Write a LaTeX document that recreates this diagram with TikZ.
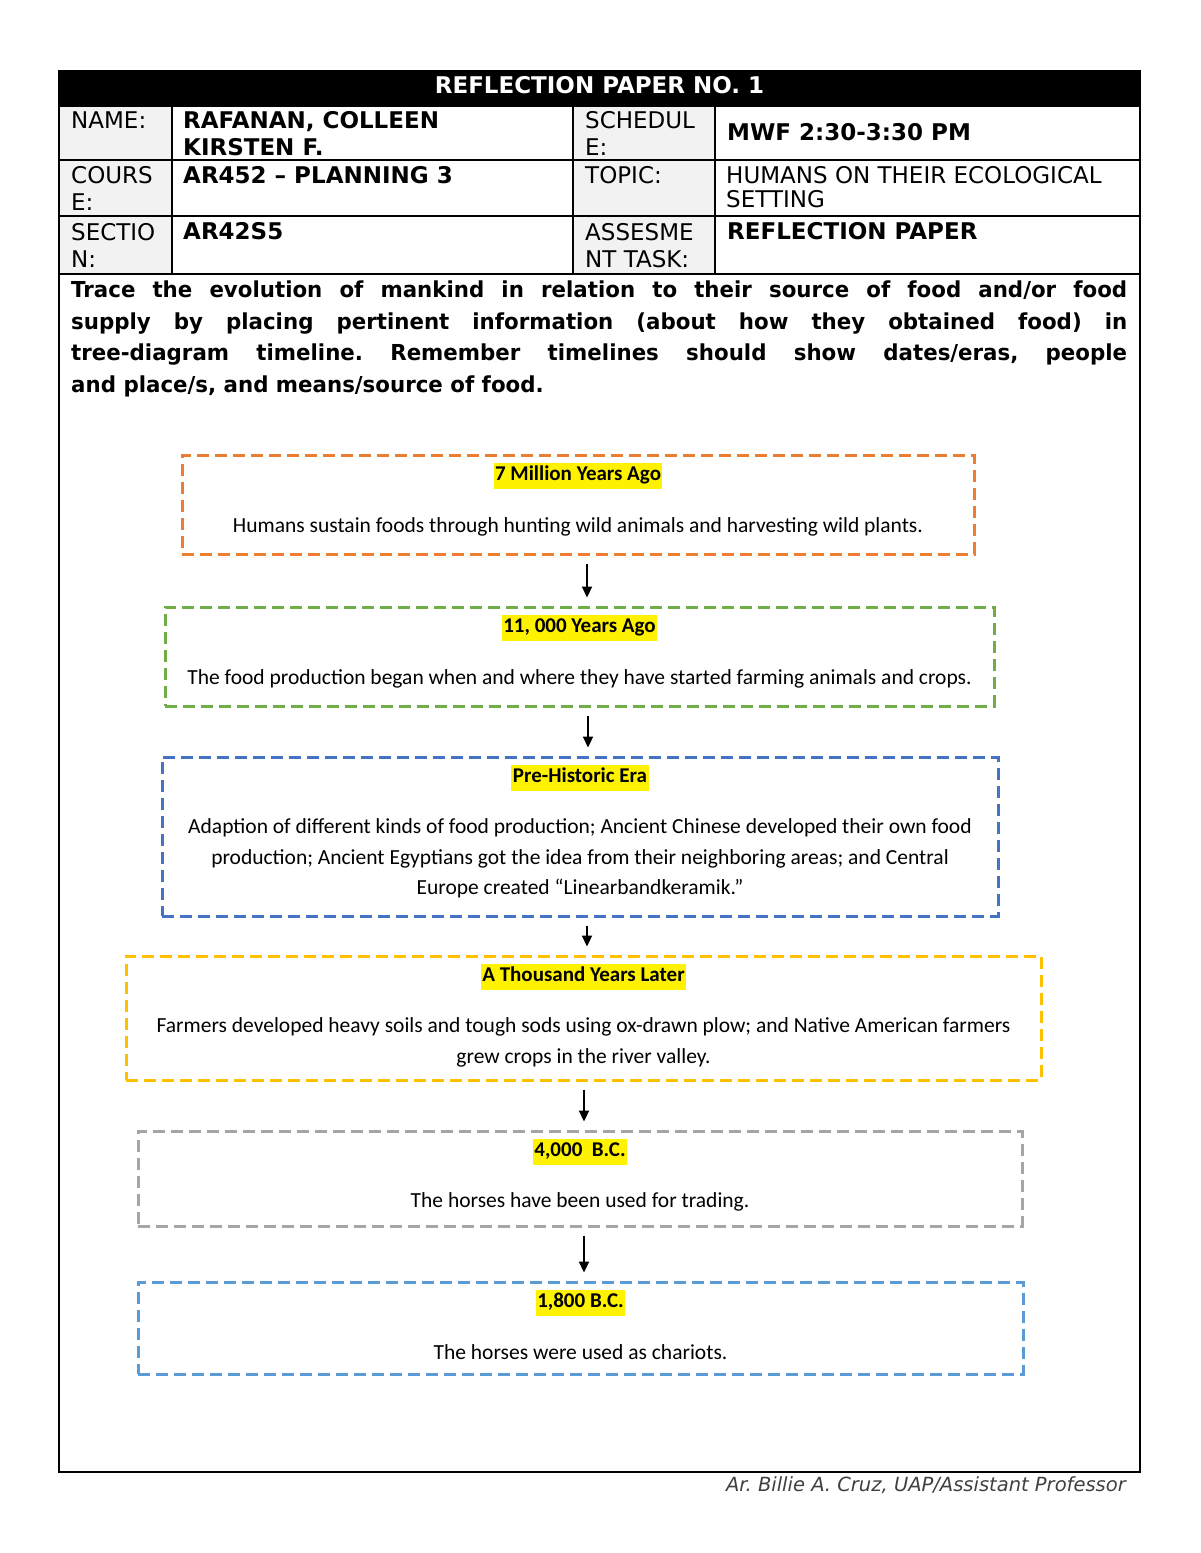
\documentclass[tikz,border=0pt]{standalone}
\usepackage{fontspec}
\usepackage{xcolor}
\usepackage{tikz}
\usetikzlibrary{arrows.meta}
\setmainfont{DejaVu Sans}
\newfontfamily\boxfont{Carlito}
\newfontfamily\askfont[FakeStretch=0.97]{DejaVu Sans}
\definecolor{eraOrange}{HTML}{ED7D31}
\definecolor{eraGreen}{HTML}{70AD47}
\definecolor{eraBlue}{HTML}{4472C4}
\definecolor{eraGold}{HTML}{FFC000}
\definecolor{eraGray}{HTML}{A5A5A5}
\definecolor{eraSky}{HTML}{5B9BD5}
\definecolor{labelgray}{HTML}{F2F2F2}
\tikzstyle{arrow} = [-{Triangle[length=11pt,width=10pt]}, line width=2.2pt, shorten <=8pt, shorten >=8pt]
\tikzstyle{era} = [draw, line width=3pt, dash pattern=on 12pt off 6pt, inner sep=0]
\tikzstyle{date} = [fill=yellow, inner xsep=1.5pt, inner ysep=3pt, text height=15pt, text depth=5pt, font=\boxfont\bfseries\fontsize{21}{24}\selectfont]
\tikzstyle{info} = [anchor=base, align=center, inner sep=0, font=\boxfont\fontsize{21.5}{30.5}\selectfont]
\tikzstyle{cell} = [anchor=base west, align=left, inner sep=0, font=\fontsize{23}{27}\selectfont]
\tikzstyle{grid} = [line width=2pt]

\begin{document}
\frenchspacing
\begin{tikzpicture}[x=1pt, y=-1pt]
    \useasboundingbox (0,0) rectangle (1200,1553);

    % header and form table
    \fill[black] (59,71) rectangle (1140,106);
    \fill[labelgray] (59,106) rectangle (172,274);
    \fill[labelgray] (573,106) rectangle (715,274);
    \draw[line width=2.5pt] (59,71) rectangle (1140,1472);
    \draw[grid] (59,106) -- (1140,106);
    \draw[grid] (59,160) -- (1140,160);
    \draw[grid] (59,216) -- (1140,216);
    \draw[grid] (59,274) -- (1140,274);
    \draw[grid] (172,106) -- (172,274);
    \draw[grid] (573,106) -- (573,274);
    \draw[grid] (715,106) -- (715,274);

    \node[cell, anchor=base, text=white, font=\bfseries\fontsize{23}{27}\selectfont] (title) at (599.5,93) {REFLECTION PAPER NO. 1};

    % multi-line cells sit on the baseline of their last line
    \node[cell] (nameL) at (71,128) {NAME:};
    \node[cell, font=\bfseries\fontsize{23}{27}\selectfont] (name) at (183,155) {RAFANAN, COLLEEN\\KIRSTEN F.};
    \node[cell] (schedL) at (585,155) {SCHEDUL\\E:};
    \node[cell, font=\bfseries\fontsize{23}{27}\selectfont] (sched) at (727,140) {MWF 2:30-3:30 PM};

    \node[cell] (courseL) at (71,210) {COURS\\E:};
    \node[cell, font=\bfseries\fontsize{23}{27}\selectfont] (course) at (183,183) {AR452 – PLANNING 3};
    \node[cell] (topicL) at (585,183) {TOPIC:};
    \node[cell, font=\fontsize{23}{24}\selectfont] (topic) at (726,207) {HUMANS ON THEIR ECOLOGICAL\\SETTING};

    \node[cell] (sectL) at (71,267) {SECTIO\\N:};
    \node[cell, font=\bfseries\fontsize{23}{27}\selectfont] (sect) at (183,239) {AR42S5};
    \node[cell] (taskL) at (585,267) {ASSESME\\NT TASK:};
    \node[cell, font=\bfseries\fontsize{23}{27}\selectfont] (task) at (727,239) {REFLECTION PAPER};

    % instruction
    \node[cell, font=\askfont\bfseries\fontsize{22}{31.5}\selectfont] (ask) at (71,392) {%
        \makebox[1056pt][s]{Trace the evolution of mankind in relation to their source of food and/or food}\\
        \makebox[1056pt][s]{supply by placing pertinent information (about how they obtained food) in}\\
        \makebox[1056pt][s]{tree-diagram timeline. Remember timelines should show dates/eras, people}\\
        and place/s, and means/source of food.};

    % timeline boxes
    \node[era, draw=eraOrange, minimum width=792pt, minimum height=99pt] (b1) at (578,504.5) {};
    \node[era, draw=eraGreen, minimum width=829pt, minimum height=99pt] (b2) at (579.5,656.5) {};
    \node[era, draw=eraBlue, minimum width=836pt, minimum height=159pt] (b3) at (580,836.5) {};
    \node[era, draw=eraGold, minimum width=915pt, minimum height=124pt] (b4) at (583.5,1018) {};
    \node[era, draw=eraGray, minimum width=884pt, minimum height=95pt] (b5) at (580,1178.5) {};
    \node[era, draw=eraSky, minimum width=885pt, minimum height=92pt] (b6) at (580.5,1328) {};

    \node[date] (d1) at ([yshift=-22pt]b1.north) {7 Million Years Ago};
    \node[info] (t1) at ([yshift=-79pt]b1.north) {Humans sustain foods through hunting wild animals and harvesting wild plants.};

    \node[date] (d2) at ([yshift=-22pt]b2.north) {11, 000 Years Ago};
    \node[info] (t2) at ([yshift=-79pt]b2.north) {The food production began when and where they have started farming animals and crops.};

    \node[date] (d3) at ([yshift=-22pt]b3.north) {Pre-Historic Era};
    \node[info] (t3) at ([yshift=-139pt]b3.north) {Adaption of different kinds of food production; Ancient Chinese developed their own food\\
        production; Ancient Egyptians got the idea from their neighboring areas; and Central\\
        Europe created “Linearbandkeramik.”};

    \node[date] (d4) at ([yshift=-22pt]b4.north) {A Thousand Years Later};
    \node[info] (t4) at ([yshift=-108.5pt]b4.north) {Farmers developed heavy soils and tough sods using ox-drawn plow; and Native American farmers\\
        grew crops in the river valley.};

    \node[date] (d5) at ([yshift=-22pt]b5.north) {4,000\ \ B.C.};
    \node[info] (t5) at ([yshift=-78pt]b5.north) {The horses have been used for trading.};

    \node[date] (d6) at ([yshift=-22pt]b6.north) {1,800 B.C.};
    \node[info] (t6) at ([yshift=-79pt]b6.north) {The horses were used as chariots.};

    \draw[arrow] ([xshift=9pt]b1.south) -- ([xshift=7.5pt]b2.north);
    \draw[arrow] ([xshift=8.5pt]b2.south) -- ([xshift=8pt]b3.north);
    \draw[arrow] ([xshift=7pt]b3.south) -- ([xshift=3.5pt]b4.north);
    \draw[arrow] ([xshift=0.5pt]b4.south) -- ([xshift=4pt]b5.north);
    \draw[arrow] ([xshift=4pt]b5.south) -- ([xshift=3.5pt]b6.north);

    % footer
    \node[anchor=base east, inner sep=0, text=black!75, font=\itshape\fontsize{19.5}{22}\selectfont] (sign) at (1126,1491) {Ar. Billie A. Cruz, UAP/Assistant Professor};
\end{tikzpicture}
\end{document}
